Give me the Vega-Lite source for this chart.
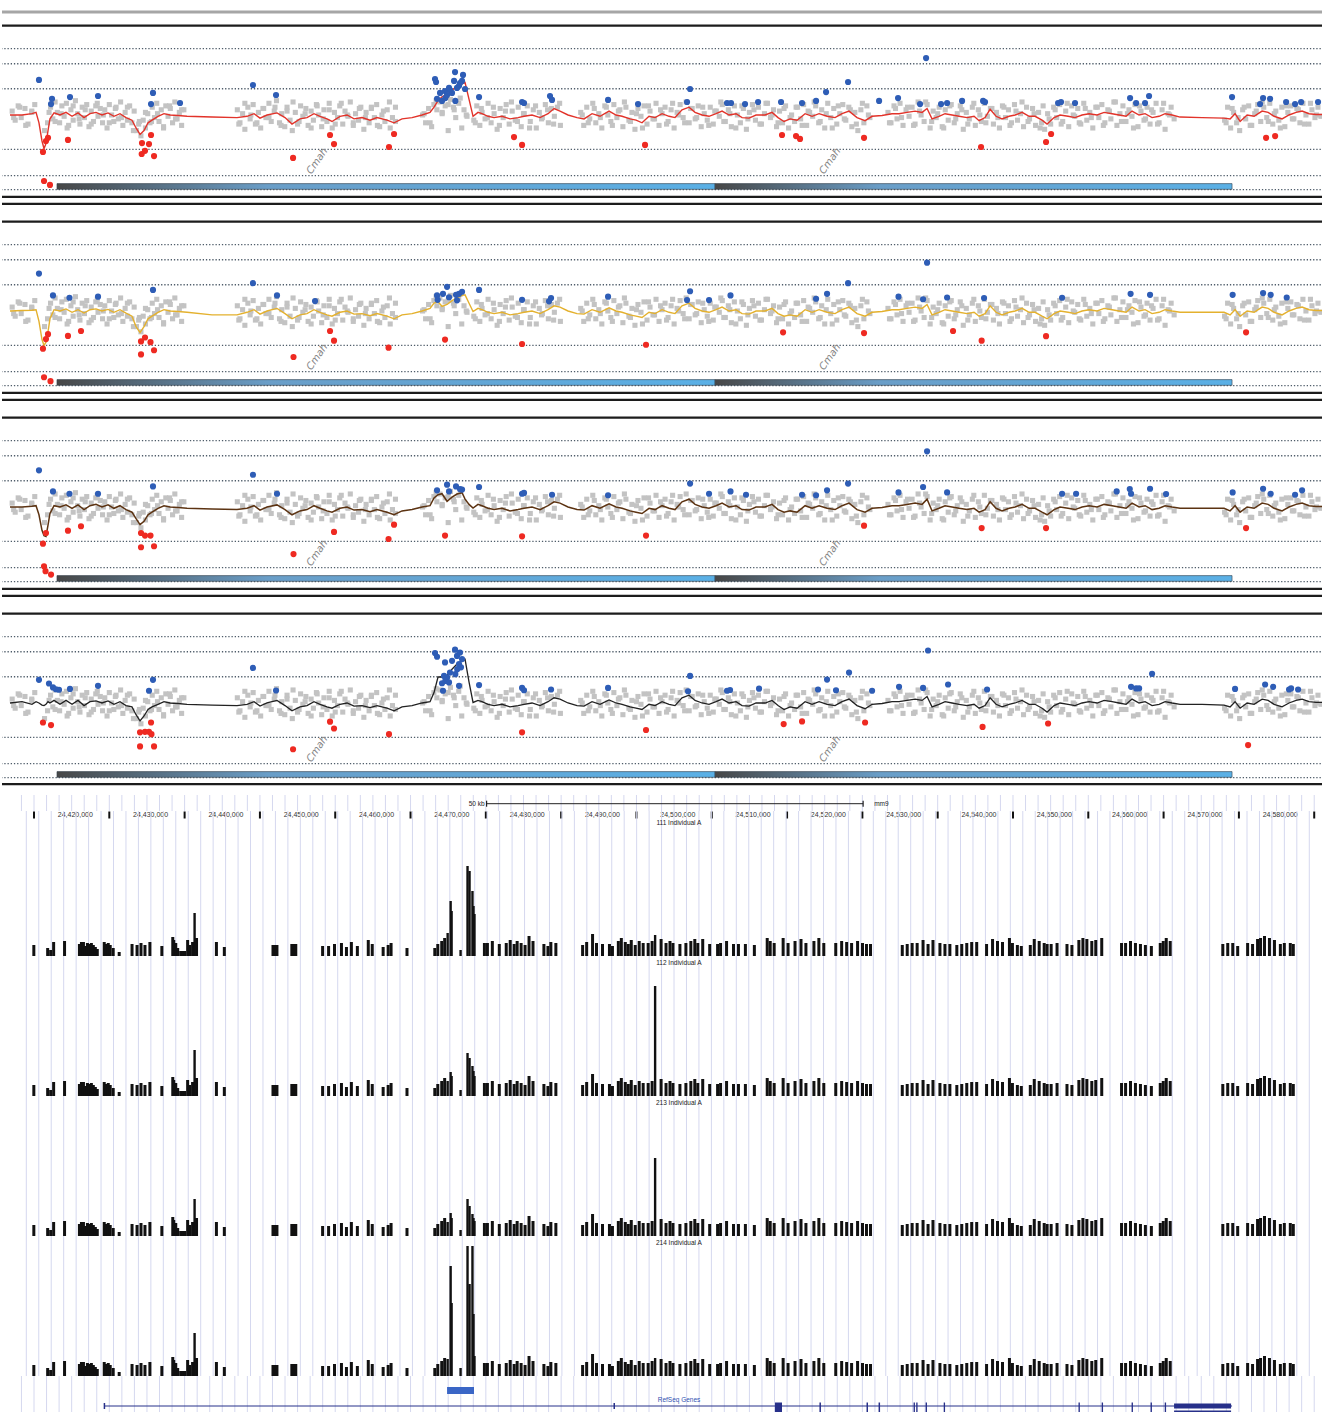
{
"$schema":"https://vega.github.io/schema/vega-lite/v6.json",
"padding":{"top":10,"left":0,"right":0,"bottom":0},
"background":"white",
"spacing":0,
"bounds":"flush",
"config":{"view":{"stroke":null},"concat":{"spacing":0}},
"datasets":{
"dots":[{"v":2.55},{"v":1.97},{"v":1.01},{"v":-1.32},{"v":-2.33},{"v":-2.87}],
"blk":[{"v":3.44},{"v":-3.15},{"v":-3.42}],
"blk4":[{"v":3.44},{"v":-3.12}],
"seg":[{"s":13.05,"e":100.44},{"s":100.44,"e":169.09}],
"cmah":[{"x":47.6,"t":"Cmah"},{"x":115.7,"t":"Cmah"}],
"grey":[
{"x":7.1,"v":0.15},{"x":7.5,"v":-0.2},{"x":7.9,"v":0.35},{"x":8.3,"v":-0.1},{"x":8.8,"v":0.25},{"x":9.2,"v":-0.35},{"x":9.7,"v":0.1},{"x":10.1,"v":0.4},
{"x":11.4,"v":-0.6},{"x":11.8,"v":-0.3},{"x":12.2,"v":0.3},{"x":12.5,"v":-0.15},{"x":12.8,"v":0.5},{"x":13.1,"v":0.1},{"x":13.4,"v":-0.3},{"x":13.7,"v":0.35},{"x":14.0,"v":-0.05},{"x":14.3,"v":0.45},{"x":14.6,"v":-0.4},{"x":14.9,"v":0.2},{"x":15.2,"v":-0.2},{"x":15.5,"v":0.55},{"x":15.8,"v":0.05},{"x":16.1,"v":-0.35},{"x":16.4,"v":0.3},{"x":16.7,"v":-0.1},{"x":17.0,"v":0.4},{"x":17.3,"v":-0.45},{"x":17.6,"v":0.15},{"x":17.9,"v":-0.25},{"x":18.2,"v":0.35},{"x":18.5,"v":-0.05},{"x":18.8,"v":0.25},
{"x":19.1,"v":-0.3},{"x":19.4,"v":0.2},{"x":19.7,"v":-0.5},{"x":20.0,"v":0.4},{"x":20.3,"v":0.0},{"x":20.6,"v":-0.25},{"x":20.9,"v":0.3},{"x":21.2,"v":-0.15},{"x":21.5,"v":0.5},{"x":21.8,"v":-0.4},{"x":22.1,"v":0.1},{"x":22.4,"v":-0.2},{"x":22.7,"v":0.35},{"x":23.0,"v":-0.3},{"x":23.3,"v":0.15},{"x":23.6,"v":-0.6},{"x":23.9,"v":-0.35},{"x":24.2,"v":-0.8},{"x":24.5,"v":-0.2},{"x":24.8,"v":-0.5},{"x":25.1,"v":0.05},{"x":25.4,"v":-0.3},{"x":25.7,"v":0.3},{"x":26.0,"v":-0.1},{"x":26.3,"v":0.45},{"x":26.6,"v":-0.25},{"x":26.9,"v":0.2},{"x":27.2,"v":-0.45},{"x":27.5,"v":0.35},{"x":27.8,"v":-0.05},{"x":28.1,"v":0.25},{"x":28.4,"v":-0.3},{"x":28.7,"v":0.5},{"x":29.0,"v":-0.15},{"x":29.3,"v":0.1},{"x":29.6,"v":-0.4},{"x":29.9,"v":0.2},
{"x":37.0,"v":0.2},{"x":37.35,"v":-0.3},{"x":37.7,"v":0.05},{"x":38.0,"v":-0.55},{"x":38.4,"v":0.3},{"x":38.7,"v":-0.15},{"x":39.1,"v":0.4},{"x":39.4,"v":-0.35},{"x":39.8,"v":0.1},{"x":40.1,"v":-0.5},{"x":40.5,"v":0.25},{"x":40.8,"v":-0.1},{"x":41.2,"v":0.45},{"x":41.5,"v":-0.25},{"x":41.9,"v":0.15},{"x":42.2,"v":0.55},{"x":42.6,"v":-0.3},{"x":42.9,"v":0.05},{"x":43.3,"v":-0.45},{"x":43.6,"v":0.3},{"x":44.0,"v":-0.2},{"x":44.3,"v":-0.6},{"x":44.7,"v":0.1},{"x":45.0,"v":-0.35},{"x":45.4,"v":0.35},{"x":45.7,"v":-0.05},{"x":46.1,"v":0.25},{"x":46.4,"v":-0.4},{"x":46.8,"v":0.15},
{"x":47.1,"v":-0.2},{"x":47.5,"v":0.4},{"x":47.8,"v":0.0},{"x":48.2,"v":-0.45},{"x":48.5,"v":0.2},{"x":48.9,"v":-0.25},{"x":49.2,"v":0.45},{"x":49.6,"v":-0.5},{"x":49.9,"v":0.1},{"x":50.3,"v":-0.1},{"x":50.6,"v":0.35},{"x":51.0,"v":-0.35},{"x":51.3,"v":0.15},{"x":51.7,"v":-0.05},{"x":52.0,"v":0.5},{"x":52.4,"v":-0.4},{"x":52.7,"v":0.05},{"x":53.1,"v":-0.2},{"x":53.4,"v":0.3},{"x":53.8,"v":-0.55},{"x":54.1,"v":0.1},{"x":54.5,"v":-0.3},{"x":54.8,"v":0.25},{"x":55.2,"v":-0.1},{"x":55.5,"v":0.4},{"x":55.9,"v":-0.45},{"x":56.2,"v":0.0},{"x":56.6,"v":-0.25},{"x":56.9,"v":0.2},{"x":57.3,"v":-0.5},{"x":57.6,"v":-0.1},{"x":58.0,"v":0.3},
{"x":61.6,"v":0.0},{"x":62.0,"v":-0.3},{"x":62.4,"v":0.25},{"x":62.8,"v":-0.45},{"x":63.1,"v":0.4},{"x":63.5,"v":0.2},{"x":63.9,"v":0.5},{"x":64.2,"v":0.1},{"x":64.6,"v":0.35},{"x":65.0,"v":-0.6},{"x":65.3,"v":0.6},{"x":65.7,"v":0.3},{"x":66.0,"v":-0.1},{"x":66.4,"v":0.45},{"x":66.8,"v":-0.5},{"x":67.1,"v":0.2},{"x":67.5,"v":-0.05},
{"x":68.4,"v":-0.2},{"x":68.8,"v":0.35},{"x":69.2,"v":-0.4},{"x":69.5,"v":0.1},{"x":69.9,"v":-0.15},{"x":70.3,"v":0.45},{"x":70.7,"v":-0.3},{"x":71.1,"v":0.05},{"x":71.5,"v":-0.55},{"x":71.9,"v":0.25},{"x":72.3,"v":-0.1},{"x":72.7,"v":0.4},{"x":73.1,"v":-0.35},{"x":73.5,"v":0.15},{"x":73.9,"v":-0.2},{"x":74.3,"v":0.3},{"x":74.7,"v":-0.45},{"x":75.1,"v":0.05},{"x":75.5,"v":0.35},{"x":75.9,"v":-0.25},{"x":76.3,"v":0.2},{"x":76.7,"v":-0.5},{"x":77.1,"v":0.1},{"x":77.5,"v":-0.1},{"x":77.9,"v":0.4},{"x":78.3,"v":-0.3},{"x":78.7,"v":0.25},{"x":79.1,"v":-0.05},{"x":79.5,"v":0.3},{"x":79.9,"v":-0.4},
{"x":82.6,"v":0.1},{"x":83.0,"v":-0.4},{"x":83.4,"v":0.3},{"x":83.8,"v":-0.15},{"x":84.2,"v":0.45},{"x":84.6,"v":-0.3},{"x":85.0,"v":0.05},{"x":85.4,"v":-0.5},{"x":85.8,"v":0.35},{"x":86.2,"v":0.0},{"x":86.6,"v":-0.25},{"x":87.0,"v":0.4},{"x":87.4,"v":-0.1},{"x":87.8,"v":0.2},{"x":88.2,"v":-0.45},{"x":88.6,"v":0.3},{"x":89.0,"v":-0.2},{"x":89.4,"v":0.1},{"x":89.8,"v":-0.55},{"x":90.2,"v":0.25},{"x":90.6,"v":-0.05},{"x":91.0,"v":0.35},{"x":91.4,"v":-0.35},{"x":91.8,"v":0.15},{"x":92.2,"v":-0.15},{"x":92.6,"v":0.45},{"x":93.0,"v":-0.4},{"x":93.4,"v":0.05},{"x":93.8,"v":0.3},{"x":94.2,"v":-0.25},{"x":94.6,"v":0.2},{"x":95.0,"v":-0.5},{"x":95.4,"v":0.1},{"x":95.8,"v":0.4},{"x":96.2,"v":-0.1},{"x":96.6,"v":0.5},{"x":97.0,"v":-0.3},{"x":97.4,"v":0.25},{"x":97.8,"v":-0.15},{"x":98.2,"v":0.35},{"x":98.6,"v":-0.45},{"x":99.0,"v":0.05},{"x":99.4,"v":-0.2},{"x":99.8,"v":0.3},{"x":100.2,"v":-0.35},{"x":100.6,"v":0.15},{"x":101.0,"v":-0.05},{"x":101.4,"v":0.4},
{"x":101.8,"v":-0.25},{"x":102.2,"v":0.2},{"x":102.6,"v":-0.45},{"x":103.0,"v":0.35},{"x":103.4,"v":0.0},{"x":103.8,"v":-0.3},{"x":104.2,"v":0.25},{"x":104.6,"v":-0.55},{"x":105.0,"v":0.1},{"x":105.4,"v":0.4},{"x":105.8,"v":-0.2},{"x":106.2,"v":0.3},{"x":106.6,"v":-0.35},{"x":107.0,"v":0.05},{"x":107.4,"v":0.45},{"x":107.8,"v":-0.1},{"x":108.2,"v":0.2},{"x":108.6,"v":-0.45},{"x":109.0,"v":0.15},{"x":109.4,"v":-0.3},{"x":109.8,"v":0.35},{"x":110.2,"v":-0.5},{"x":110.6,"v":0.0},{"x":111.0,"v":-0.25},{"x":111.4,"v":0.3},{"x":111.8,"v":-0.15},{"x":112.2,"v":0.4},{"x":112.6,"v":-0.4},{"x":113.0,"v":0.1},{"x":113.4,"v":-0.05},{"x":113.8,"v":0.35},{"x":114.2,"v":-0.3},{"x":114.6,"v":0.2},{"x":115.0,"v":-0.5},{"x":115.4,"v":0.45},{"x":115.8,"v":-0.1},{"x":116.2,"v":0.25},{"x":116.6,"v":-0.35},{"x":117.0,"v":0.05},{"x":117.4,"v":0.4},{"x":117.8,"v":-0.2},{"x":118.2,"v":0.3},{"x":118.6,"v":-0.45},{"x":119.0,"v":0.1},{"x":119.4,"v":-0.6},{"x":119.8,"v":0.2},{"x":120.2,"v":-0.3},{"x":120.6,"v":0.35},{"x":121.0,"v":-0.1},
{"x":123.4,"v":0.1},{"x":123.8,"v":-0.3},{"x":124.2,"v":0.35},{"x":124.6,"v":-0.15},{"x":125.0,"v":0.45},{"x":125.4,"v":-0.4},{"x":125.8,"v":0.2},{"x":126.2,"v":-0.05},{"x":126.6,"v":0.3},{"x":127.0,"v":-0.35},{"x":127.4,"v":0.5},{"x":127.8,"v":0.0},{"x":128.2,"v":-0.25},{"x":128.6,"v":0.4},{"x":129.0,"v":-0.5},{"x":129.4,"v":0.15},{"x":129.8,"v":-0.1},{"x":130.2,"v":0.3},{"x":130.6,"v":-0.45},{"x":131.0,"v":0.2},{"x":131.4,"v":-0.2},{"x":131.8,"v":0.4},{"x":132.2,"v":-0.3},{"x":132.6,"v":0.05},{"x":133.0,"v":0.35},{"x":133.4,"v":-0.55},{"x":133.8,"v":0.1},{"x":134.2,"v":-0.15},{"x":134.6,"v":0.3},{"x":135.0,"v":-0.4},{"x":135.4,"v":0.2},{"x":135.8,"v":-0.25},{"x":136.2,"v":0.45},{"x":136.6,"v":-0.05},{"x":137.0,"v":0.25},{"x":137.4,"v":-0.35},{"x":137.8,"v":0.1},{"x":138.2,"v":-0.5},{"x":138.6,"v":0.35},{"x":139.0,"v":-0.1},{"x":139.4,"v":0.2},{"x":139.8,"v":-0.3},{"x":140.2,"v":0.4},{"x":140.6,"v":-0.2},{"x":141.0,"v":0.05},{"x":141.4,"v":-0.45},{"x":141.8,"v":0.3},{"x":142.2,"v":-0.15},{"x":142.6,"v":0.25},{"x":143.0,"v":-0.4},{"x":143.4,"v":0.1},
{"x":143.8,"v":-0.3},{"x":144.2,"v":-0.55},{"x":144.6,"v":0.05},{"x":145.0,"v":-0.35},{"x":145.4,"v":0.3},{"x":145.8,"v":-0.1},{"x":146.2,"v":0.4},{"x":146.6,"v":-0.25},{"x":147.0,"v":0.15},{"x":147.4,"v":-0.45},{"x":147.8,"v":0.35},{"x":148.2,"v":-0.05},{"x":148.6,"v":0.25},{"x":149.0,"v":-0.35},{"x":149.4,"v":0.45},{"x":149.8,"v":-0.2},{"x":150.2,"v":0.1},{"x":150.6,"v":-0.5},{"x":151.0,"v":0.3},{"x":151.4,"v":-0.1},{"x":151.8,"v":0.4},{"x":152.2,"v":-0.3},{"x":152.6,"v":0.2},{"x":153.0,"v":-0.15},{"x":153.4,"v":0.5},{"x":153.8,"v":-0.4},{"x":154.2,"v":0.05},{"x":154.6,"v":0.35},{"x":155.0,"v":-0.25},{"x":155.4,"v":0.2},{"x":155.8,"v":-0.05},{"x":156.2,"v":0.4},{"x":156.6,"v":-0.45},{"x":157.0,"v":0.15},{"x":157.4,"v":-0.2},{"x":157.8,"v":0.3},{"x":158.2,"v":-0.35},{"x":158.6,"v":0.1},{"x":159.0,"v":0.45},{"x":159.4,"v":-0.3},{"x":159.8,"v":0.2},{"x":160.2,"v":-0.55},{"x":160.6,"v":0.05},{"x":161.0,"v":0.3},{"x":161.4,"v":-0.15},
{"x":168.1,"v":-0.2},{"x":168.5,"v":0.3},{"x":168.9,"v":-0.5},{"x":169.3,"v":0.1},{"x":169.7,"v":-0.3},{"x":170.1,"v":-0.6},{"x":170.5,"v":0.2},{"x":170.9,"v":-0.15},{"x":171.3,"v":0.35},{"x":171.7,"v":-0.4},{"x":172.1,"v":0.05},{"x":172.5,"v":0.4},{"x":172.9,"v":-0.25},{"x":173.3,"v":0.3},{"x":173.7,"v":-0.1},{"x":174.1,"v":0.45},{"x":174.5,"v":-0.35},{"x":174.9,"v":0.15},{"x":175.3,"v":-0.2},{"x":175.7,"v":0.3},{"x":176.1,"v":-0.45},{"x":176.5,"v":0.1},{"x":176.9,"v":0.35},{"x":177.3,"v":-0.15},{"x":177.7,"v":0.25},{"x":178.1,"v":-0.3},{"x":178.5,"v":0.45},{"x":178.9,"v":0.0},{"x":179.3,"v":-0.35},{"x":179.7,"v":0.2},{"x":180.1,"v":-0.1},{"x":180.5,"v":0.3},{"x":180.9,"v":-0.05},
{"x":7.3,"v":-0.1},{"x":8.1,"v":0.3},{"x":8.9,"v":-0.4},{"x":9.7,"v":0.15},
{"x":12.0,"v":0.1},{"x":12.8,"v":-0.25},{"x":13.6,"v":0.05},{"x":14.4,"v":-0.5},{"x":15.2,"v":0.35},{"x":16.0,"v":-0.15},{"x":16.8,"v":0.2},{"x":17.6,"v":-0.35},{"x":18.4,"v":0.45},
{"x":19.2,"v":0.0},{"x":20.0,"v":-0.3},{"x":20.8,"v":0.25},{"x":21.6,"v":-0.1},{"x":22.4,"v":0.3},{"x":23.2,"v":-0.6},{"x":24.0,"v":-0.25},{"x":24.8,"v":0.1},{"x":25.6,"v":-0.25},{"x":26.4,"v":0.05},{"x":27.2,"v":-0.5},{"x":28.0,"v":0.35},{"x":28.8,"v":-0.15},{"x":29.6,"v":0.2},
{"x":37.2,"v":-0.35},{"x":38.0,"v":0.45},{"x":38.8,"v":0.0},{"x":39.6,"v":-0.3},{"x":40.4,"v":0.25},{"x":41.2,"v":-0.1},{"x":42.0,"v":0.3},{"x":42.8,"v":-0.4},{"x":43.6,"v":0.15},{"x":44.4,"v":0.5},{"x":45.2,"v":-0.25},{"x":46.0,"v":0.05},{"x":46.8,"v":-0.5},
{"x":47.6,"v":0.35},{"x":48.4,"v":-0.15},{"x":49.2,"v":0.2},{"x":50.0,"v":-0.35},{"x":50.8,"v":0.45},{"x":51.6,"v":0.0},{"x":52.4,"v":-0.3},{"x":53.2,"v":0.25},{"x":54.0,"v":-0.1},{"x":54.8,"v":0.3},{"x":55.6,"v":-0.4},{"x":56.4,"v":0.15},{"x":57.2,"v":0.5},{"x":58.0,"v":-0.25},
{"x":61.8,"v":0.05},{"x":62.6,"v":-0.3},{"x":63.4,"v":0.55},{"x":64.2,"v":0.05},{"x":65.0,"v":0.4},{"x":65.8,"v":0.2},{"x":66.6,"v":0.65},{"x":67.4,"v":0.0},
{"x":68.6,"v":-0.3},{"x":69.4,"v":0.25},{"x":70.2,"v":-0.1},{"x":71.0,"v":0.3},{"x":71.8,"v":-0.4},{"x":72.6,"v":0.15},{"x":73.4,"v":0.5},{"x":74.2,"v":-0.25},{"x":75.0,"v":0.05},{"x":75.8,"v":-0.5},{"x":76.6,"v":0.35},{"x":77.4,"v":-0.15},{"x":78.2,"v":0.2},{"x":79.0,"v":-0.35},{"x":79.8,"v":0.45},
{"x":82.8,"v":0.0},{"x":83.6,"v":-0.3},{"x":84.4,"v":0.25},{"x":85.2,"v":-0.1},{"x":86.0,"v":0.3},{"x":86.8,"v":-0.4},{"x":87.6,"v":0.15},{"x":88.4,"v":0.5},{"x":89.2,"v":-0.25},{"x":90.0,"v":0.05},{"x":90.8,"v":-0.5},{"x":91.6,"v":0.35},{"x":92.4,"v":-0.15},{"x":93.2,"v":0.2},{"x":94.0,"v":-0.35},{"x":94.8,"v":0.45},{"x":95.6,"v":0.0},{"x":96.4,"v":-0.3},{"x":97.2,"v":0.25},{"x":98.0,"v":-0.1},{"x":98.8,"v":0.3},{"x":99.6,"v":-0.4},{"x":100.4,"v":0.15},{"x":101.2,"v":0.5},
{"x":101.6,"v":-0.25},{"x":102.4,"v":0.05},{"x":103.2,"v":-0.5},{"x":104.0,"v":0.35},{"x":104.8,"v":-0.15},{"x":105.6,"v":0.2},{"x":106.4,"v":-0.35},{"x":107.2,"v":0.45},{"x":108.0,"v":0.0},{"x":108.8,"v":-0.3},{"x":109.6,"v":0.25},{"x":110.4,"v":-0.1},{"x":111.2,"v":0.3},{"x":112.0,"v":-0.4},{"x":112.8,"v":0.15},{"x":113.6,"v":0.5},{"x":114.4,"v":-0.25},{"x":115.2,"v":0.05},{"x":116.0,"v":-0.5},{"x":116.8,"v":0.35},{"x":117.6,"v":-0.15},{"x":118.4,"v":0.2},{"x":119.2,"v":-0.35},{"x":120.0,"v":0.45},{"x":120.8,"v":0.0},
{"x":123.6,"v":-0.3},{"x":124.4,"v":0.25},{"x":125.2,"v":-0.1},{"x":126.0,"v":0.3},{"x":126.8,"v":-0.4},{"x":127.6,"v":0.15},{"x":128.4,"v":0.5},{"x":129.2,"v":-0.25},{"x":130.0,"v":0.05},{"x":130.8,"v":-0.5},{"x":131.6,"v":0.35},{"x":132.4,"v":-0.15},{"x":133.2,"v":0.2},{"x":134.0,"v":-0.35},{"x":134.8,"v":0.45},{"x":135.6,"v":0.0},{"x":136.4,"v":-0.3},{"x":137.2,"v":0.25},{"x":138.0,"v":-0.1},{"x":138.8,"v":0.3},{"x":139.6,"v":-0.4},{"x":140.4,"v":0.15},{"x":141.2,"v":0.5},{"x":142.0,"v":-0.25},{"x":142.8,"v":0.05},{"x":143.6,"v":-0.5},
{"x":144.0,"v":0.35},{"x":144.8,"v":-0.15},{"x":145.6,"v":0.2},{"x":146.4,"v":-0.35},{"x":147.2,"v":0.45},{"x":148.0,"v":0.0},{"x":148.8,"v":-0.3},{"x":149.6,"v":0.25},{"x":150.4,"v":-0.1},{"x":151.2,"v":0.3},{"x":152.0,"v":-0.4},{"x":152.8,"v":0.15},{"x":153.6,"v":0.5},{"x":154.4,"v":-0.25},{"x":155.2,"v":0.05},{"x":156.0,"v":-0.5},{"x":156.8,"v":0.35},{"x":157.6,"v":-0.15},{"x":158.4,"v":0.2},{"x":159.2,"v":-0.35},{"x":160.0,"v":0.45},{"x":160.8,"v":0.0},
{"x":168.3,"v":-0.3},{"x":169.1,"v":0.25},{"x":169.9,"v":-0.1},{"x":170.7,"v":0.3},{"x":171.5,"v":-0.4},{"x":172.3,"v":0.15},{"x":173.1,"v":0.5},{"x":173.9,"v":-0.25},{"x":174.7,"v":0.05},{"x":175.5,"v":-0.5},{"x":176.3,"v":0.35},{"x":177.1,"v":-0.15},{"x":177.9,"v":0.2},{"x":178.7,"v":-0.35},{"x":179.5,"v":0.45},{"x":180.3,"v":0.0}
],
"smooth":[
{"x":6.81,"a":0,"b":0,"c":0,"d":0},{"x":8.41,"a":0,"b":0.02,"c":0,"d":0.05},{"x":9.73,"a":0.05,"b":0.03,"c":0.03,"d":-0.05},{"x":10.27,"a":0.1,"b":0.05,"c":0.05,"d":0.05},{"x":10.66,"a":-0.3,"b":-0.4,"c":-0.3,"d":0},{"x":11.06,"a":-1.0,"b":-1.1,"c":-0.9,"d":-0.08},{"x":11.33,"a":-1.3,"b":-1.33,"c":-1.1,"d":-0.1},{"x":11.59,"a":-1.1,"b":-1.2,"c":-1.13,"d":-0.05},{"x":11.86,"a":-0.6,"b":-0.8,"c":-0.7,"d":0.05},{"x":12.12,"a":-0.15,"b":-0.3,"c":-0.25,"d":0},
{"x":12.66,"a":0.08,"b":0.05,"c":0.05,"d":0.1},{"x":13.45,"a":0,"b":0,"c":0,"d":-0.05},{"x":14.25,"a":0.1,"b":0.08,"c":0.08,"d":0.1},{"x":15.05,"a":-0.05,"b":-0.05,"c":-0.05,"d":-0.05},{"x":15.84,"a":0.08,"b":0.05,"c":0.08,"d":0.1},{"x":16.64,"a":-0.1,"b":-0.08,"c":-0.1,"d":-0.1},{"x":17.44,"a":0.05,"b":0.05,"c":0.05,"d":0.05},{"x":18.23,"a":0.1,"b":0.08,"c":0.1,"d":0.08},{"x":19.03,"a":0,"b":0,"c":0,"d":0},{"x":19.83,"a":0.08,"b":0.06,"c":0.08,"d":0.08},{"x":20.62,"a":-0.05,"b":-0.05,"c":-0.05,"d":-0.05},{"x":21.42,"a":0.05,"b":0.05,"c":0.05,"d":0.05},{"x":22.22,"a":-0.1,"b":-0.08,"c":-0.1,"d":-0.1},
{"x":23.01,"a":-0.2,"b":-0.2,"c":-0.2,"d":-0.15},{"x":23.55,"a":-0.5,"b":-0.6,"c":-0.45,"d":-0.45},{"x":24.08,"a":-0.75,"b":-0.83,"c":-0.68,"d":-0.69},{"x":24.61,"a":-0.6,"b":-0.6,"c":-0.55,"d":-0.5},{"x":25.14,"a":-0.3,"b":-0.3,"c":-0.3,"d":-0.25},{"x":25.67,"a":-0.2,"b":-0.2,"c":-0.2,"d":-0.15},{"x":26.47,"a":-0.05,"b":-0.05,"c":-0.05,"d":-0.05},{"x":27.26,"a":0.05,"b":0.05,"c":0.05,"d":0.05},{"x":28.06,"a":0,"b":0,"c":0,"d":0},{"x":29.12,"a":-0.02,"b":-0.02,"c":-0.02,"d":-0.02},{"x":30.32,"a":-0.05,"b":-0.05,"c":-0.05,"d":-0.05},{"x":33.64,"a":-0.08,"b":-0.15,"c":-0.08,"d":-0.08},{"x":36.96,"a":-0.1,"b":-0.15,"c":-0.1,"d":-0.1},
{"x":38.29,"a":-0.05,"b":-0.05,"c":-0.05,"d":-0.05},{"x":39.22,"a":0.05,"b":0.05,"c":0.05,"d":0.05},{"x":40.01,"a":-0.12,"b":-0.12,"c":-0.12,"d":-0.12},{"x":40.94,"a":0,"b":0,"c":0,"d":0},{"x":42.27,"a":0.08,"b":0.1,"c":0.08,"d":0.1},{"x":43.33,"a":-0.1,"b":-0.1,"c":-0.1,"d":-0.1},{"x":44.26,"a":-0.35,"b":-0.3,"c":-0.3,"d":-0.3},{"x":45.32,"a":-0.15,"b":-0.15,"c":-0.15,"d":-0.15},{"x":46.25,"a":-0.1,"b":-0.1,"c":-0.1,"d":-0.1},{"x":47.18,"a":0.05,"b":0.05,"c":0.05,"d":0.05},{"x":47.98,"a":-0.05,"b":-0.05,"c":-0.05,"d":-0.05},{"x":48.91,"a":-0.15,"b":-0.15,"c":-0.15,"d":-0.15},{"x":49.57,"a":-0.25,"b":-0.2,"c":-0.2,"d":-0.2},{"x":50.64,"a":-0.05,"b":-0.05,"c":-0.05,"d":-0.05},{"x":51.57,"a":0,"b":0,"c":0,"d":0},{"x":52.5,"a":-0.15,"b":-0.12,"c":-0.12,"d":-0.12},{"x":53.56,"a":-0.1,"b":-0.1,"c":-0.1,"d":-0.1},{"x":54.62,"a":-0.2,"b":-0.18,"c":-0.18,"d":-0.18},{"x":55.55,"a":-0.1,"b":-0.1,"c":-0.1,"d":-0.1},{"x":56.88,"a":-0.2,"b":-0.2,"c":-0.2,"d":-0.2},{"x":57.81,"a":-0.3,"b":-0.3,"c":-0.3,"d":-0.3},{"x":58.87,"a":-0.15,"b":-0.15,"c":-0.15,"d":-0.15},{"x":60.2,"a":-0.1,"b":-0.1,"c":-0.1,"d":-0.1},{"x":61.53,"a":0,"b":0,"c":0,"d":0},
{"x":62.59,"a":0.1,"b":0.1,"c":0.05,"d":0.05},{"x":63.12,"a":0.3,"b":0.3,"c":0.35,"d":0.4},{"x":63.65,"a":0.55,"b":0.35,"c":0.47,"d":1.0},{"x":64.18,"a":0.7,"b":0.18,"c":0.51,"d":1.0},{"x":64.85,"a":0.8,"b":0.25,"c":0.22,"d":1.05},{"x":65.51,"a":0.95,"b":0.4,"c":0.38,"d":1.3},{"x":66.17,"a":1.1,"b":0.5,"c":0.5,"d":1.5},{"x":66.84,"a":1.2,"b":0.6,"c":0.55,"d":1.62},{"x":67.24,"a":1.25,"b":0.62,"c":0.3,"d":1.68},{"x":67.77,"a":0.6,"b":0.3,"c":0.1,"d":0.8},{"x":68.3,"a":-0.05,"b":-0.02,"c":-0.04,"d":0.02},
{"x":68.96,"a":0.1,"b":0.1,"c":0.1,"d":0.1},{"x":69.49,"a":0.05,"b":0.05,"c":0.05,"d":0.05},{"x":70.29,"a":-0.05,"b":-0.05,"c":-0.05,"d":-0.05},{"x":71.09,"a":-0.1,"b":-0.1,"c":-0.1,"d":-0.1},{"x":72.15,"a":-0.05,"b":-0.05,"c":-0.05,"d":-0.05},{"x":73.21,"a":-0.15,"b":-0.15,"c":-0.15,"d":-0.15},{"x":74.28,"a":-0.1,"b":-0.1,"c":-0.1,"d":-0.1},{"x":75.07,"a":-0.05,"b":-0.05,"c":-0.05,"d":-0.05},{"x":76.13,"a":0,"b":0,"c":0,"d":0},{"x":77.2,"a":-0.1,"b":-0.1,"c":-0.1,"d":-0.1},{"x":78.26,"a":0.05,"b":0.05,"c":0.05,"d":0.05},{"x":79.06,"a":0.25,"b":0.2,"c":0.2,"d":0.2},{"x":79.85,"a":0.15,"b":0.15,"c":0.15,"d":0.15},{"x":80.91,"a":0,"b":0,"c":0,"d":0},{"x":82.11,"a":-0.1,"b":-0.1,"c":-0.1,"d":-0.1},{"x":83.04,"a":-0.15,"b":-0.12,"c":-0.12,"d":-0.12},{"x":84.1,"a":0.05,"b":0.05,"c":0.05,"d":0.05},{"x":85.16,"a":-0.05,"b":-0.05,"c":-0.05,"d":-0.05},{"x":86.36,"a":0.15,"b":0.12,"c":0.12,"d":0.12},{"x":87.29,"a":0,"b":0,"c":0,"d":0},{"x":88.09,"a":-0.05,"b":-0.05,"c":-0.05,"d":-0.05},{"x":89.15,"a":-0.15,"b":-0.15,"c":-0.15,"d":-0.15},{"x":89.95,"a":-0.2,"b":-0.2,"c":-0.2,"d":-0.2},{"x":90.74,"a":-0.3,"b":-0.25,"c":-0.25,"d":-0.25},{"x":91.67,"a":-0.05,"b":-0.05,"c":-0.05,"d":-0.05},{"x":92.47,"a":-0.1,"b":-0.1,"c":-0.1,"d":-0.1},{"x":93.4,"a":0.05,"b":0.05,"c":0.05,"d":0.05},{"x":94.33,"a":-0.05,"b":-0.05,"c":-0.05,"d":-0.05},{"x":95.12,"a":-0.1,"b":-0.1,"c":-0.1,"d":-0.1},{"x":96.05,"a":0.2,"b":0.2,"c":0.2,"d":0.2},{"x":96.98,"a":0.3,"b":0.3,"c":0.3,"d":0.3},{"x":97.78,"a":0.1,"b":0.1,"c":0.1,"d":0.1},{"x":98.71,"a":0,"b":0,"c":0,"d":0},{"x":99.64,"a":-0.05,"b":-0.05,"c":-0.05,"d":-0.05},{"x":100.57,"a":0.05,"b":0.05,"c":0.05,"d":0.05},{"x":101.37,"a":0.15,"b":0.15,"c":0.15,"d":0.15},{"x":102.3,"a":0,"b":0,"c":0,"d":0},{"x":103.23,"a":0.05,"b":0.05,"c":0.05,"d":0.05},{"x":104.02,"a":-0.1,"b":-0.1,"c":-0.1,"d":-0.1},{"x":104.95,"a":-0.12,"b":-0.12,"c":-0.12,"d":-0.12},{"x":105.88,"a":0,"b":0,"c":0,"d":0},{"x":107.08,"a":0,"b":0,"c":0,"d":0},{"x":108.01,"a":0.1,"b":0.1,"c":0.1,"d":0.1},{"x":108.8,"a":-0.1,"b":-0.1,"c":-0.1,"d":-0.1},{"x":109.6,"a":-0.25,"b":-0.2,"c":-0.2,"d":-0.25},{"x":110.4,"a":-0.15,"b":-0.15,"c":-0.15,"d":-0.15},{"x":111.33,"a":-0.2,"b":-0.2,"c":-0.2,"d":-0.2},{"x":112.39,"a":0.05,"b":0.05,"c":0.05,"d":0.05},{"x":113.32,"a":-0.05,"b":-0.05,"c":-0.05,"d":-0.05},{"x":114.25,"a":0.05,"b":0.05,"c":0.05,"d":0.05},{"x":115.31,"a":-0.05,"b":-0.05,"c":-0.05,"d":-0.05},{"x":116.37,"a":-0.1,"b":-0.1,"c":-0.1,"d":-0.1},{"x":117.3,"a":0.05,"b":0.05,"c":0.05,"d":0.05},{"x":118.23,"a":0.15,"b":0.15,"c":0.15,"d":0.15},{"x":119.29,"a":-0.1,"b":-0.1,"c":-0.1,"d":-0.1},{"x":120.36,"a":-0.22,"b":-0.2,"c":-0.2,"d":-0.22},{"x":121.29,"a":-0.05,"b":-0.05,"c":-0.05,"d":-0.05},{"x":122.61,"a":-0.02,"b":-0.02,"c":-0.02,"d":-0.02},{"x":123.94,"a":0.05,"b":0.05,"c":0.05,"d":0.05},{"x":124.87,"a":0.05,"b":0.05,"c":0.05,"d":0.05},{"x":125.93,"a":0.1,"b":0.1,"c":0.1,"d":0.1},{"x":127.0,"a":0.15,"b":0.15,"c":0.15,"d":0.15},{"x":127.93,"a":0.1,"b":0.1,"c":0.1,"d":0.1},{"x":128.59,"a":0.25,"b":0.25,"c":0.3,"d":0.25},{"x":129.25,"a":-0.15,"b":-0.15,"c":-0.15,"d":-0.15},{"x":130.18,"a":-0.05,"b":-0.05,"c":-0.05,"d":-0.05},{"x":130.98,"a":0.05,"b":0.05,"c":0.05,"d":0.05},{"x":131.91,"a":0,"b":0,"c":0,"d":0},{"x":132.84,"a":-0.05,"b":-0.05,"c":-0.05,"d":-0.05},{"x":133.9,"a":-0.1,"b":-0.1,"c":-0.1,"d":-0.1},{"x":134.83,"a":-0.05,"b":-0.05,"c":-0.05,"d":-0.05},{"x":135.5,"a":-0.22,"b":-0.2,"c":-0.2,"d":-0.2},{"x":136.29,"a":-0.1,"b":-0.1,"c":-0.1,"d":-0.1},{"x":136.96,"a":0.22,"b":0.2,"c":0.2,"d":0.2},{"x":137.75,"a":-0.05,"b":-0.05,"c":-0.05,"d":-0.05},{"x":138.55,"a":-0.15,"b":-0.15,"c":-0.15,"d":-0.15},{"x":139.48,"a":-0.05,"b":-0.05,"c":-0.05,"d":-0.05},{"x":140.28,"a":0,"b":0,"c":0,"d":0},{"x":141.21,"a":0.1,"b":0.1,"c":0.1,"d":0.1},{"x":142.14,"a":-0.05,"b":-0.05,"c":-0.05,"d":-0.05},{"x":142.93,"a":-0.05,"b":-0.05,"c":-0.05,"d":-0.05},{"x":143.86,"a":-0.2,"b":-0.2,"c":-0.2,"d":-0.2},{"x":144.53,"a":-0.35,"b":-0.3,"c":-0.3,"d":-0.35},{"x":145.46,"a":-0.1,"b":-0.1,"c":-0.1,"d":-0.1},{"x":146.25,"a":0,"b":0,"c":0,"d":0},{"x":147.32,"a":-0.05,"b":-0.05,"c":-0.05,"d":-0.05},{"x":148.24,"a":-0.1,"b":-0.1,"c":-0.1,"d":-0.1},{"x":149.17,"a":0,"b":0,"c":0,"d":0},{"x":150.1,"a":0.05,"b":0.05,"c":0.05,"d":0.05},{"x":151.17,"a":0,"b":0,"c":0,"d":0},{"x":152.1,"a":0.1,"b":0.1,"c":0.1,"d":0.1},{"x":153.16,"a":0.05,"b":0.05,"c":0.05,"d":0.05},{"x":154.09,"a":0,"b":0,"c":0,"d":0},{"x":155.02,"a":-0.05,"b":-0.05,"c":-0.05,"d":-0.05},{"x":155.81,"a":0.15,"b":0.15,"c":0.15,"d":0.15},{"x":156.74,"a":0,"b":0,"c":0,"d":0},{"x":157.54,"a":0.05,"b":0.05,"c":0.05,"d":0.05},{"x":158.47,"a":-0.1,"b":-0.1,"c":-0.1,"d":-0.1},{"x":159.4,"a":-0.05,"b":-0.05,"c":-0.05,"d":-0.05},{"x":160.2,"a":0.05,"b":0.05,"c":0.05,"d":0.05},{"x":161.13,"a":0,"b":0,"c":0,"d":0},{"x":162.19,"a":-0.08,"b":-0.05,"c":-0.05,"d":-0.05},{"x":165.11,"a":-0.1,"b":-0.05,"c":-0.05,"d":-0.05},{"x":168.03,"a":-0.12,"b":-0.05,"c":-0.05,"d":-0.08},{"x":168.83,"a":-0.15,"b":-0.15,"c":-0.15,"d":-0.15},{"x":169.49,"a":0.05,"b":0.05,"c":0.05,"d":0.05},{"x":170.16,"a":-0.25,"b":-0.2,"c":-0.2,"d":-0.2},{"x":171.09,"a":0,"b":0,"c":0,"d":0},{"x":172.02,"a":-0.05,"b":-0.05,"c":-0.05,"d":-0.05},{"x":173.08,"a":0.15,"b":0.15,"c":0.15,"d":0.15},{"x":173.88,"a":0.1,"b":0.1,"c":0.1,"d":0.1},{"x":174.67,"a":-0.05,"b":-0.05,"c":-0.05,"d":-0.05},{"x":175.73,"a":-0.15,"b":-0.15,"c":-0.15,"d":-0.15},{"x":176.66,"a":0,"b":0,"c":0,"d":0},{"x":177.59,"a":0.1,"b":0.1,"c":0.1,"d":0.1},{"x":178.39,"a":0.15,"b":0.15,"c":0.15,"d":0.15},{"x":179.32,"a":0.05,"b":0.05,"c":0.05,"d":0.05},{"x":180.25,"a":0.02,"b":0.02,"c":0.02,"d":0.02},{"x":181.2,"a":0.02,"b":0.02,"c":0.02,"d":0.02}
],
"out":[
{"p":1,"x":10.66,"v":1.35,"c":"b"},{"p":1,"x":12.39,"v":0.62,"c":"b"},{"p":1,"x":12.26,"v":0.42,"c":"b"},{"p":1,"x":14.78,"v":0.69,"c":"b"},{"p":1,"x":18.5,"v":0.73,"c":"b"},{"p":1,"x":25.8,"v":0.85,"c":"b"},{"p":1,"x":25.54,"v":0.42,"c":"b"},{"p":1,"x":29.39,"v":0.46,"c":"b"},{"p":1,"x":39.08,"v":1.15,"c":"b"},{"p":1,"x":42.14,"v":0.77,"c":"b"},
{"p":1,"x":63.25,"v":1.38,"c":"b"},{"p":1,"x":63.39,"v":1.27,"c":"b"},{"p":1,"x":64.58,"v":0.92,"c":"b"},{"p":1,"x":65.11,"v":1.04,"c":"b"},{"p":1,"x":65.91,"v":1.65,"c":"b"},{"p":1,"x":66.97,"v":1.54,"c":"b"},{"p":1,"x":66.84,"v":1.31,"c":"b"},{"p":1,"x":66.44,"v":1.12,"c":"b"},{"p":1,"x":65.51,"v":0.85,"c":"b"},{"p":1,"x":64.18,"v":0.54,"c":"b"},{"p":1,"x":63.52,"v":0.62,"c":"b"},{"p":1,"x":65.95,"v":0.54,"c":"b"},{"p":1,"x":64.62,"v":0.65,"c":"b"},{"p":1,"x":65.24,"v":0.96,"c":"b"},{"p":1,"x":66.17,"v":1.04,"c":"b"},{"p":1,"x":66.57,"v":1.23,"c":"b"},{"p":1,"x":64.85,"v":0.77,"c":"b"},{"p":1,"x":63.92,"v":0.85,"c":"b"},{"p":1,"x":65.78,"v":1.31,"c":"b"},{"p":1,"x":67.24,"v":1.0,"c":"b"},
{"p":1,"x":69.1,"v":0.69,"c":"b"},{"p":1,"x":74.81,"v":0.5,"c":"b"},{"p":1,"x":75.07,"v":0.46,"c":"b"},{"p":1,"x":78.52,"v":0.73,"c":"b"},{"p":1,"x":78.79,"v":0.58,"c":"b"},{"p":1,"x":86.23,"v":0.58,"c":"b"},{"p":1,"x":90.21,"v":0.42,"c":"b"},{"p":1,"x":97.12,"v":1.0,"c":"b"},{"p":1,"x":96.72,"v":0.5,"c":"b"},{"p":1,"x":102.03,"v":0.46,"c":"b"},{"p":1,"x":102.56,"v":0.46,"c":"b"},{"p":1,"x":104.42,"v":0.42,"c":"b"},{"p":1,"x":106.15,"v":0.5,"c":"b"},{"p":1,"x":109.2,"v":0.5,"c":"b"},{"p":1,"x":111.99,"v":0.46,"c":"b"},{"p":1,"x":113.85,"v":0.54,"c":"b"},{"p":1,"x":115.18,"v":0.88,"c":"b"},{"p":1,"x":118.1,"v":1.27,"c":"b"},{"p":1,"x":122.22,"v":0.54,"c":"b"},{"p":1,"x":124.74,"v":0.65,"c":"b"},{"p":1,"x":127.66,"v":0.42,"c":"b"},{"p":1,"x":128.46,"v":2.19,"c":"b"},{"p":1,"x":130.45,"v":0.42,"c":"b"},{"p":1,"x":131.25,"v":0.46,"c":"b"},{"p":1,"x":133.24,"v":0.54,"c":"b"},{"p":1,"x":136.03,"v":0.54,"c":"b"},{"p":1,"x":136.29,"v":0.5,"c":"b"},{"p":1,"x":145.99,"v":0.46,"c":"b"},{"p":1,"x":146.38,"v":0.5,"c":"b"},{"p":1,"x":148.24,"v":0.46,"c":"b"},{"p":1,"x":155.55,"v":0.65,"c":"b"},{"p":1,"x":156.35,"v":0.46,"c":"b"},{"p":1,"x":157.54,"v":0.46,"c":"b"},{"p":1,"x":158.07,"v":0.73,"c":"b"},{"p":1,"x":169.09,"v":0.69,"c":"b"},{"p":1,"x":173.21,"v":0.65,"c":"b"},{"p":1,"x":172.81,"v":0.42,"c":"b"},{"p":1,"x":174.14,"v":0.62,"c":"b"},{"p":1,"x":176.27,"v":0.5,"c":"b"},{"p":1,"x":177.46,"v":0.42,"c":"b"},{"p":1,"x":178.26,"v":0.5,"c":"b"},{"p":1,"x":180.51,"v":0.5,"c":"b"},
{"p":1,"x":11.19,"v":-1.42,"c":"r"},{"p":1,"x":11.86,"v":-0.88,"c":"r"},{"p":1,"x":11.59,"v":-1.0,"c":"r"},{"p":1,"x":14.51,"v":-0.96,"c":"r"},{"p":1,"x":11.33,"v":-2.54,"c":"r"},{"p":1,"x":12.12,"v":-2.69,"c":"r"},{"p":1,"x":24.34,"v":-1.08,"c":"r"},{"p":1,"x":25.27,"v":-1.12,"c":"r"},{"p":1,"x":24.3,"v":-1.5,"c":"r"},{"p":1,"x":24.74,"v":-1.38,"c":"r"},{"p":1,"x":25.54,"v":-0.77,"c":"r"},{"p":1,"x":25.94,"v":-1.58,"c":"r"},{"p":1,"x":44.4,"v":-1.65,"c":"r"},{"p":1,"x":49.31,"v":-0.77,"c":"r"},{"p":1,"x":49.84,"v":-1.12,"c":"r"},{"p":1,"x":57.14,"v":-1.23,"c":"r"},{"p":1,"x":57.81,"v":-0.73,"c":"r"},{"p":1,"x":73.74,"v":-0.85,"c":"r"},{"p":1,"x":74.81,"v":-1.15,"c":"r"},{"p":1,"x":91.14,"v":-1.15,"c":"r"},{"p":1,"x":109.33,"v":-0.77,"c":"r"},{"p":1,"x":111.19,"v":-0.81,"c":"r"},{"p":1,"x":111.72,"v":-0.92,"c":"r"},{"p":1,"x":120.22,"v":-0.88,"c":"r"},{"p":1,"x":135.76,"v":-1.23,"c":"r"},{"p":1,"x":144.39,"v":-1.04,"c":"r"},{"p":1,"x":145.06,"v":-0.73,"c":"r"},{"p":1,"x":173.61,"v":-0.88,"c":"r"},{"p":1,"x":174.81,"v":-0.81,"c":"r"},
{"p":2,"x":10.66,"v":1.44,"c":"b"},{"p":2,"x":12.52,"v":0.6,"c":"b"},{"p":2,"x":14.71,"v":0.51,"c":"b"},{"p":2,"x":18.5,"v":0.55,"c":"b"},{"p":2,"x":25.8,"v":0.81,"c":"b"},{"p":2,"x":39.08,"v":1.07,"c":"b"},{"p":2,"x":42.27,"v":0.6,"c":"b"},{"p":2,"x":47.32,"v":0.38,"c":"b"},{"p":2,"x":63.52,"v":0.6,"c":"b"},{"p":2,"x":64.31,"v":0.66,"c":"b"},{"p":2,"x":64.85,"v":0.93,"c":"b"},{"p":2,"x":65.11,"v":0.53,"c":"b"},{"p":2,"x":66.04,"v":0.62,"c":"b"},{"p":2,"x":66.44,"v":0.66,"c":"b"},{"p":2,"x":66.84,"v":0.74,"c":"b"},{"p":2,"x":66.17,"v":0.41,"c":"b"},{"p":2,"x":63.6,"v":0.43,"c":"b"},{"p":2,"x":69.1,"v":0.81,"c":"b"},{"p":2,"x":74.81,"v":0.43,"c":"b"},{"p":2,"x":78.66,"v":0.5,"c":"b"},{"p":2,"x":78.39,"v":0.37,"c":"b"},{"p":2,"x":86.23,"v":0.55,"c":"b"},{"p":2,"x":97.12,"v":0.76,"c":"b"},{"p":2,"x":96.72,"v":0.42,"c":"b"},{"p":2,"x":99.64,"v":0.42,"c":"b"},{"p":2,"x":102.49,"v":0.6,"c":"b"},{"p":2,"x":113.85,"v":0.47,"c":"b"},{"p":2,"x":115.31,"v":0.66,"c":"b"},{"p":2,"x":118.1,"v":1.07,"c":"b"},{"p":2,"x":124.8,"v":0.55,"c":"b"},{"p":2,"x":128.06,"v":0.45,"c":"b"},{"p":2,"x":128.59,"v":1.86,"c":"b"},{"p":2,"x":131.25,"v":0.52,"c":"b"},{"p":2,"x":136.16,"v":0.5,"c":"b"},{"p":2,"x":146.52,"v":0.51,"c":"b"},{"p":2,"x":155.62,"v":0.66,"c":"b"},{"p":2,"x":158.2,"v":0.62,"c":"b"},{"p":2,"x":169.17,"v":0.62,"c":"b"},{"p":2,"x":173.21,"v":0.69,"c":"b"},{"p":2,"x":174.22,"v":0.62,"c":"b"},{"p":2,"x":176.35,"v":0.52,"c":"b"},
{"p":2,"x":11.19,"v":-1.45,"c":"r"},{"p":2,"x":11.59,"v":-1.08,"c":"r"},{"p":2,"x":11.86,"v":-0.89,"c":"r"},{"p":2,"x":11.33,"v":-2.55,"c":"r"},{"p":2,"x":12.19,"v":-2.7,"c":"r"},{"p":2,"x":14.51,"v":-0.96,"c":"r"},{"p":2,"x":16.24,"v":-0.77,"c":"r"},{"p":2,"x":24.21,"v":-1.17,"c":"r"},{"p":2,"x":24.74,"v":-1.02,"c":"r"},{"p":2,"x":25.47,"v":-1.2,"c":"r"},{"p":2,"x":24.21,"v":-1.67,"c":"r"},{"p":2,"x":25.94,"v":-1.51,"c":"r"},{"p":2,"x":44.46,"v":-1.77,"c":"r"},{"p":2,"x":49.31,"v":-0.77,"c":"r"},{"p":2,"x":49.84,"v":-1.14,"c":"r"},{"p":2,"x":57.08,"v":-1.41,"c":"r"},{"p":2,"x":64.58,"v":-1.1,"c":"r"},{"p":2,"x":74.81,"v":-1.27,"c":"r"},{"p":2,"x":91.27,"v":-1.3,"c":"r"},{"p":2,"x":109.47,"v":-0.82,"c":"r"},{"p":2,"x":120.22,"v":-0.85,"c":"r"},{"p":2,"x":132.04,"v":-0.77,"c":"r"},{"p":2,"x":135.84,"v":-1.14,"c":"r"},{"p":2,"x":144.39,"v":-0.97,"c":"r"},{"p":2,"x":170.95,"v":-0.82,"c":"r"},
{"p":3,"x":10.66,"v":1.41,"c":"b"},{"p":3,"x":12.52,"v":0.6,"c":"b"},{"p":3,"x":14.71,"v":0.51,"c":"b"},{"p":3,"x":18.5,"v":0.51,"c":"b"},{"p":3,"x":25.8,"v":0.79,"c":"b"},{"p":3,"x":39.08,"v":1.24,"c":"b"},{"p":3,"x":42.27,"v":0.51,"c":"b"},{"p":3,"x":63.52,"v":0.64,"c":"b"},{"p":3,"x":64.85,"v":0.86,"c":"b"},{"p":3,"x":65.11,"v":0.6,"c":"b"},{"p":3,"x":66.04,"v":0.79,"c":"b"},{"p":3,"x":66.57,"v":0.69,"c":"b"},{"p":3,"x":66.84,"v":0.67,"c":"b"},{"p":3,"x":69.1,"v":0.77,"c":"b"},{"p":3,"x":74.81,"v":0.51,"c":"b"},{"p":3,"x":75.07,"v":0.54,"c":"b"},{"p":3,"x":78.79,"v":0.47,"c":"b"},{"p":3,"x":86.23,"v":0.45,"c":"b"},{"p":3,"x":97.12,"v":0.9,"c":"b"},{"p":3,"x":99.64,"v":0.51,"c":"b"},{"p":3,"x":102.49,"v":0.6,"c":"b"},{"p":3,"x":104.55,"v":0.47,"c":"b"},{"p":3,"x":111.99,"v":0.47,"c":"b"},{"p":3,"x":113.85,"v":0.45,"c":"b"},{"p":3,"x":115.31,"v":0.64,"c":"b"},{"p":3,"x":118.1,"v":0.9,"c":"b"},{"p":3,"x":124.8,"v":0.56,"c":"b"},{"p":3,"x":128.06,"v":0.77,"c":"b"},{"p":3,"x":128.59,"v":2.14,"c":"b"},{"p":3,"x":131.25,"v":0.56,"c":"b"},{"p":3,"x":146.52,"v":0.51,"c":"b"},{"p":3,"x":148.38,"v":0.51,"c":"b"},{"p":3,"x":153.77,"v":0.6,"c":"b"},{"p":3,"x":155.51,"v":0.69,"c":"b"},{"p":3,"x":155.68,"v":0.51,"c":"b"},{"p":3,"x":158.2,"v":0.7,"c":"b"},{"p":3,"x":160.33,"v":0.5,"c":"b"},{"p":3,"x":169.17,"v":0.56,"c":"b"},{"p":3,"x":173.21,"v":0.7,"c":"b"},{"p":3,"x":174.22,"v":0.51,"c":"b"},{"p":3,"x":177.46,"v":0.47,"c":"b"},{"p":3,"x":178.39,"v":0.64,"c":"b"},
{"p":3,"x":11.19,"v":-1.41,"c":"r"},{"p":3,"x":11.59,"v":-1.0,"c":"r"},{"p":3,"x":11.33,"v":-2.28,"c":"r"},{"p":3,"x":11.53,"v":-2.47,"c":"r"},{"p":3,"x":12.26,"v":-2.6,"c":"r"},{"p":3,"x":14.51,"v":-0.91,"c":"r"},{"p":3,"x":16.24,"v":-0.74,"c":"r"},{"p":3,"x":24.21,"v":-1.0,"c":"r"},{"p":3,"x":24.74,"v":-1.1,"c":"r"},{"p":3,"x":25.47,"v":-1.1,"c":"r"},{"p":3,"x":24.21,"v":-1.55,"c":"r"},{"p":3,"x":25.94,"v":-1.51,"c":"r"},{"p":3,"x":44.46,"v":-1.81,"c":"r"},{"p":3,"x":49.84,"v":-0.96,"c":"r"},{"p":3,"x":57.81,"v":-0.68,"c":"r"},{"p":3,"x":57.08,"v":-1.23,"c":"r"},{"p":3,"x":64.58,"v":-1.1,"c":"r"},{"p":3,"x":74.81,"v":-1.13,"c":"r"},{"p":3,"x":91.27,"v":-1.1,"c":"r"},{"p":3,"x":120.22,"v":-0.72,"c":"r"},{"p":3,"x":135.84,"v":-0.81,"c":"r"},{"p":3,"x":144.39,"v":-0.81,"c":"r"},{"p":3,"x":170.95,"v":-0.81,"c":"r"},
{"p":4,"x":10.66,"v":0.89,"c":"b"},{"p":4,"x":11.99,"v":0.75,"c":"b"},{"p":4,"x":12.52,"v":0.6,"c":"b"},{"p":4,"x":12.92,"v":0.53,"c":"b"},{"p":4,"x":13.32,"v":0.51,"c":"b"},{"p":4,"x":14.78,"v":0.54,"c":"b"},{"p":4,"x":18.5,"v":0.66,"c":"b"},{"p":4,"x":25.8,"v":0.89,"c":"b"},{"p":4,"x":25.27,"v":0.47,"c":"b"},{"p":4,"x":39.08,"v":1.35,"c":"b"},{"p":4,"x":42.14,"v":0.48,"c":"b"},
{"p":4,"x":63.25,"v":1.92,"c":"b"},{"p":4,"x":63.52,"v":1.78,"c":"b"},{"p":4,"x":64.58,"v":1.56,"c":"b"},{"p":4,"x":64.45,"v":1.04,"c":"b"},{"p":4,"x":64.62,"v":0.85,"c":"b"},{"p":4,"x":64.85,"v":0.98,"c":"b"},{"p":4,"x":64.18,"v":0.76,"c":"b"},{"p":4,"x":64.31,"v":0.47,"c":"b"},{"p":4,"x":65.24,"v":1.17,"c":"b"},{"p":4,"x":65.51,"v":1.62,"c":"b"},{"p":4,"x":65.91,"v":2.05,"c":"b"},{"p":4,"x":66.17,"v":1.81,"c":"b"},{"p":4,"x":66.44,"v":1.5,"c":"b"},{"p":4,"x":66.57,"v":1.94,"c":"b"},{"p":4,"x":66.84,"v":1.69,"c":"b"},{"p":4,"x":66.7,"v":1.37,"c":"b"},{"p":4,"x":66.2,"v":1.3,"c":"b"},{"p":4,"x":65.95,"v":1.11,"c":"b"},{"p":4,"x":66.44,"v":0.66,"c":"b"},{"p":4,"x":65.11,"v":0.79,"c":"b"},{"p":4,"x":69.1,"v":0.69,"c":"b"},
{"p":4,"x":74.81,"v":0.58,"c":"b"},{"p":4,"x":75.07,"v":0.49,"c":"b"},{"p":4,"x":78.66,"v":0.52,"c":"b"},{"p":4,"x":86.23,"v":0.58,"c":"b"},{"p":4,"x":97.12,"v":1.04,"c":"b"},{"p":4,"x":96.85,"v":0.45,"c":"b"},{"p":4,"x":102.03,"v":0.47,"c":"b"},{"p":4,"x":102.43,"v":0.5,"c":"b"},{"p":4,"x":106.28,"v":0.55,"c":"b"},{"p":4,"x":114.11,"v":0.52,"c":"b"},{"p":4,"x":115.31,"v":0.9,"c":"b"},{"p":4,"x":116.5,"v":0.49,"c":"b"},{"p":4,"x":118.23,"v":1.17,"c":"b"},{"p":4,"x":121.29,"v":0.47,"c":"b"},{"p":4,"x":124.87,"v":0.62,"c":"b"},{"p":4,"x":128.06,"v":0.58,"c":"b"},{"p":4,"x":128.72,"v":2.02,"c":"b"},{"p":4,"x":131.38,"v":0.71,"c":"b"},{"p":4,"x":136.56,"v":0.52,"c":"b"},{"p":4,"x":155.68,"v":0.62,"c":"b"},{"p":4,"x":156.35,"v":0.56,"c":"b"},{"p":4,"x":156.75,"v":0.56,"c":"b"},{"p":4,"x":158.47,"v":1.12,"c":"b"},{"p":4,"x":169.49,"v":0.54,"c":"b"},{"p":4,"x":173.48,"v":0.71,"c":"b"},{"p":4,"x":174.54,"v":0.62,"c":"b"},{"p":4,"x":176.66,"v":0.52,"c":"b"},{"p":4,"x":176.93,"v":0.56,"c":"b"},{"p":4,"x":177.86,"v":0.52,"c":"b"},
{"p":4,"x":11.19,"v":-0.75,"c":"r"},{"p":4,"x":12.26,"v":-0.85,"c":"r"},{"p":4,"x":24.08,"v":-1.13,"c":"r"},{"p":4,"x":24.74,"v":-1.11,"c":"r"},{"p":4,"x":25.27,"v":-1.11,"c":"r"},{"p":4,"x":25.54,"v":-0.75,"c":"r"},{"p":4,"x":25.6,"v":-1.2,"c":"r"},{"p":4,"x":24.08,"v":-1.67,"c":"r"},{"p":4,"x":25.94,"v":-1.67,"c":"r"},{"p":4,"x":44.4,"v":-1.78,"c":"r"},{"p":4,"x":49.31,"v":-0.72,"c":"r"},{"p":4,"x":49.84,"v":-0.98,"c":"r"},{"p":4,"x":57.14,"v":-1.2,"c":"r"},{"p":4,"x":74.81,"v":-1.13,"c":"r"},{"p":4,"x":91.27,"v":-1.04,"c":"r"},{"p":4,"x":109.55,"v":-0.81,"c":"r"},{"p":4,"x":111.99,"v":-0.71,"c":"r"},{"p":4,"x":120.36,"v":-0.75,"c":"r"},{"p":4,"x":135.96,"v":-0.92,"c":"r"},{"p":4,"x":144.66,"v":-0.79,"c":"r"},{"p":4,"x":171.22,"v":-1.62,"c":"r"}
],
"guides":[{"g":8.333},{"g":10},{"g":11.667},{"g":13.333},{"g":15},{"g":16.667},{"g":18.333},{"g":20},{"g":21.667},{"g":23.333},{"g":25},{"g":26.667},{"g":28.333},{"g":30},{"g":31.667},{"g":33.333},{"g":35},{"g":36.667},{"g":38.333},{"g":40},{"g":41.667},{"g":43.333},{"g":45},{"g":46.667},{"g":48.333},{"g":50},{"g":51.667},{"g":53.333},{"g":55},{"g":56.667},{"g":58.333},{"g":60},{"g":61.667},{"g":63.333},{"g":65},{"g":66.667},{"g":68.333},{"g":70},{"g":71.667},{"g":73.333},{"g":75},{"g":76.667},{"g":78.333},{"g":80},{"g":81.667},{"g":83.333},{"g":85},{"g":86.667},{"g":88.333},{"g":90},{"g":91.667},{"g":93.333},{"g":95},{"g":96.667},{"g":98.333},{"g":100},{"g":101.667},{"g":103.333},{"g":105},{"g":106.667},{"g":108.333},{"g":110},{"g":111.667},{"g":113.333},{"g":115},{"g":116.667},{"g":118.333},{"g":120},{"g":121.667},{"g":123.333},{"g":125},{"g":126.667},{"g":128.333},{"g":130},{"g":131.667},{"g":133.333},{"g":135},{"g":136.667},{"g":138.333},{"g":140},{"g":141.667},{"g":143.333},{"g":145},{"g":146.667},{"g":148.333},{"g":150},{"g":151.667},{"g":153.333},{"g":155},{"g":156.667},{"g":158.333},{"g":160},{"g":161.667},{"g":163.333},{"g":165},{"g":166.667},{"g":168.333},{"g":170},{"g":171.667},{"g":173.333},{"g":175},{"g":176.667},{"g":178.333},{"g":180}],
"ruler":[{"k":10,"lab":""},{"k":20,"lab":"24,420,000"},{"k":30,"lab":"24,430,000"},{"k":40,"lab":"24,440,000"},{"k":50,"lab":"24,450,000"},{"k":60,"lab":"24,460,000"},{"k":70,"lab":"24,470,000"},{"k":80,"lab":"24,480,000"},{"k":90,"lab":"24,490,000"},{"k":100,"lab":"24,500,000"},{"k":110,"lab":"24,510,000"},{"k":120,"lab":"24,520,000"},{"k":130,"lab":"24,530,000"},{"k":140,"lab":"24,540,000"},{"k":150,"lab":"24,550,000"},{"k":160,"lab":"24,560,000"},{"k":170,"lab":"24,570,000"},{"k":180,"lab":"24,580,000"}],
"sbar":[{"s":70.1,"e":120.1,"lab":"50 kb","asm":"mm9"}],
"cov":[
{"x":9.34,"h":11},{"x":11.19,"h":8},{"x":11.59,"h":6},{"x":11.99,"h":14},{"x":13.45,"h":15},
{"x":15.44,"h":12},{"x":15.71,"h":14},{"x":15.98,"h":14},{"x":16.24,"h":10},{"x":16.51,"h":13},{"x":16.77,"h":12},{"x":17.04,"h":13},{"x":17.3,"h":11},{"x":17.57,"h":9},{"x":17.83,"h":7},
{"x":18.76,"h":14},{"x":19.03,"h":12},{"x":19.3,"h":13},{"x":19.56,"h":11},{"x":19.96,"h":8},{"x":20.76,"h":4},
{"x":22.48,"h":12},{"x":23.15,"h":11},{"x":23.68,"h":13},{"x":24.21,"h":11},{"x":24.87,"h":14},{"x":26.47,"h":10},
{"x":27.93,"h":19},{"x":28.06,"h":16},{"x":28.33,"h":13},{"x":28.59,"h":8},{"x":28.99,"h":5},{"x":29.26,"h":5},{"x":29.52,"h":5},{"x":29.92,"h":16},{"x":30.19,"h":11},{"x":30.58,"h":14},{"x":31.11,"h":18},
{"x":33.77,"h":14},{"x":34.83,"h":9},
{"x":41.34,"h":11},{"x":41.48,"h":11},{"x":41.61,"h":11},{"x":41.74,"h":11},{"x":41.87,"h":11},
{"x":43.86,"h":12},{"x":44.0,"h":12},{"x":44.13,"h":12},{"x":44.26,"h":12},{"x":44.39,"h":12},
{"x":47.98,"h":10},{"x":48.78,"h":10},{"x":49.57,"h":12},{"x":50.5,"h":13},{"x":51.17,"h":9},{"x":51.83,"h":14},{"x":52.63,"h":10},{"x":54.09,"h":16},{"x":54.62,"h":12},{"x":56.08,"h":9},{"x":56.75,"h":11},{"x":57.14,"h":13},{"x":59.27,"h":8},
{"x":62.99,"h":8},{"x":63.39,"h":12},{"x":63.92,"h":15},{"x":64.31,"h":18},
{"x":69.63,"h":13},{"x":70.03,"h":13},{"x":70.69,"h":15},{"x":71.62,"h":12},{"x":72.55,"h":13},{"x":73.08,"h":16},{"x":73.61,"h":12},{"x":74.01,"h":15},{"x":74.54,"h":13},{"x":75.07,"h":11},{"x":75.6,"h":20},{"x":76.13,"h":15},{"x":77.59,"h":12},{"x":78.13,"h":10},{"x":78.52,"h":14},{"x":79.19,"h":13},
{"x":82.77,"h":11},{"x":83.31,"h":14},{"x":84.1,"h":22},{"x":84.63,"h":13},{"x":85.43,"h":12},{"x":86.36,"h":12},{"x":86.76,"h":10},{"x":87.55,"h":15},{"x":87.95,"h":18},{"x":88.48,"h":14},{"x":88.88,"h":12},{"x":89.28,"h":16},{"x":89.81,"h":11},{"x":90.34,"h":15},{"x":90.87,"h":13},{"x":91.54,"h":13},{"x":92.07,"h":15},
{"x":93.27,"h":17},{"x":93.93,"h":13},{"x":94.46,"h":15},{"x":94.86,"h":13},{"x":95.79,"h":12},{"x":96.59,"h":13},{"x":97.25,"h":15},{"x":97.78,"h":17},{"x":98.18,"h":13},{"x":98.84,"h":17},{"x":99.77,"h":12},{"x":100.83,"h":12},{"x":101.23,"h":13},{"x":102.03,"h":15},{"x":102.96,"h":12},{"x":103.62,"h":12},{"x":104.55,"h":12},{"x":105.75,"h":11},
{"x":107.47,"h":18},{"x":107.87,"h":15},{"x":108.4,"h":13},{"x":109.6,"h":18},{"x":110.26,"h":13},{"x":111.19,"h":15},{"x":111.99,"h":17},{"x":112.65,"h":13},{"x":113.72,"h":15},{"x":114.38,"h":18},{"x":115.04,"h":13},{"x":116.64,"h":13},{"x":117.43,"h":15},{"x":118.1,"h":14},{"x":118.76,"h":13},{"x":119.56,"h":15},{"x":120.22,"h":13},{"x":120.75,"h":12},{"x":121.29,"h":12},
{"x":125.54,"h":11},{"x":126.2,"h":12},{"x":126.86,"h":13},{"x":127.53,"h":13},{"x":128.32,"h":16},{"x":128.99,"h":12},{"x":129.65,"h":16},{"x":130.58,"h":13},{"x":131.25,"h":12},{"x":131.91,"h":12},{"x":132.84,"h":11},{"x":133.5,"h":12},{"x":134.17,"h":13},{"x":134.83,"h":14},{"x":135.5,"h":14},
{"x":136.82,"h":12},{"x":137.62,"h":17},{"x":138.28,"h":15},{"x":138.95,"h":14},{"x":139.88,"h":18},{"x":140.28,"h":13},{"x":140.94,"h":11},{"x":141.47,"h":10},{"x":142.67,"h":11},{"x":143.2,"h":17},{"x":143.86,"h":15},{"x":144.53,"h":13},{"x":144.92,"h":12},{"x":145.46,"h":12},{"x":146.25,"h":13},{"x":147.58,"h":12},{"x":148.24,"h":11},{"x":149.17,"h":16},{"x":149.71,"h":18},{"x":150.24,"h":17},{"x":150.9,"h":15},{"x":151.43,"h":16},{"x":152.23,"h":18},
{"x":154.88,"h":13},{"x":155.42,"h":13},{"x":156.08,"h":15},{"x":156.74,"h":13},{"x":157.41,"h":12},{"x":158.07,"h":11},{"x":158.87,"h":10},{"x":160.06,"h":13},{"x":160.46,"h":15},{"x":160.86,"h":18},{"x":161.39,"h":15},
{"x":168.43,"h":12},{"x":169.09,"h":13},{"x":169.76,"h":13},{"x":170.42,"h":10},{"x":171.75,"h":13},{"x":172.41,"h":12},{"x":173.08,"h":17},{"x":173.48,"h":18},{"x":174.01,"h":20},{"x":174.67,"h":18},{"x":175.34,"h":16},{"x":176.13,"h":12},{"x":176.66,"h":13},{"x":177.46,"h":13},{"x":177.86,"h":12}
],
"spk":[
{"x":30.85,"a":43,"b":46,"c":37,"d":43},
{"x":64.71,"a":23,"b":15,"c":14,"d":17},
{"x":65.11,"a":55,"b":24,"c":23,"d":110},
{"x":65.24,"a":45,"b":20,"c":18,"d":73},
{"x":66.44,"a":6,"b":6,"c":6,"d":8},
{"x":67.37,"a":90,"b":43,"c":37,"d":130},
{"x":67.64,"a":85,"b":38,"c":30,"d":92},
{"x":68.03,"a":65,"b":30,"c":22,"d":130},
{"x":68.17,"a":50,"b":25,"c":18,"d":62},
{"x":68.3,"a":42,"b":20,"c":15,"d":20},
{"x":92.47,"a":21,"b":110,"c":78,"d":18}
],
"cnv":[{"s":64.85,"e":68.43}],
"tx":[{"t":1,"s":19.3,"e":169.09},{"t":2,"s":106.94,"e":169.09}],
"ex":[{"k":1,"s":19.25,"e":19.45},{"k":1,"s":86.95,"e":87.15},{"k":2,"s":108.4,"e":109.33},{"k":2,"s":114.3,"e":114.5},{"k":2,"s":120.55,"e":120.75},{"k":2,"s":122.15,"e":122.35},{"k":2,"s":126.8,"e":126.98},{"k":2,"s":127.15,"e":127.33},{"k":2,"s":128.4,"e":128.58},{"k":2,"s":130.8,"e":130.98},{"k":2,"s":148.7,"e":148.88},{"k":2,"s":151.78,"e":151.96},{"k":2,"s":155.75,"e":155.93},{"k":2,"s":158.27,"e":158.45},{"k":2,"s":160.15,"e":160.33},{"k":3,"s":161.39,"e":168.96}]
},
"vconcat":[
{"width":1322,"height":195.5,"layer":[
{"data":{"name":"dots"},"mark":{"type":"rule","color":"#4f5d6a","strokeWidth":1.3,"strokeDash":[1.3,1.9]},"encoding":{"y":{"field":"v","type":"quantitative","scale":{"domain":[-3.52,4],"nice":false,"zero":false},"axis":null}}},
{"data":{"name":"blk"},"mark":{"type":"rule","color":"#1c1c1c","strokeWidth":2.2},"encoding":{"y":{"field":"v","type":"quantitative","axis":null}}},
{"data":{"values":[{"v":3.96}]},"mark":{"type":"rule","color":"#a6a6a6","strokeWidth":3},"encoding":{"y":{"field":"v","type":"quantitative","axis":null}}},
{"data":{"name":"seg"},"mark":{"type":"rect","stroke":"#34404a","strokeWidth":0.6,"color":{"gradient":"linear","x1":0,"y1":0,"x2":1,"y2":0,"stops":[{"offset":0,"color":"#474747"},{"offset":0.32,"color":"#6a9ec8"},{"offset":1,"color":"#5ab0e6"}]}},"encoding":{"x":{"field":"s","type":"quantitative","axis":null},"x2":{"field":"e"},"y":{"datum":-2.64,"type":"quantitative","axis":null},"y2":{"datum":-2.86}}},
{"data":{"name":"grey"},"mark":{"type":"square","size":26,"color":"#c3c3c3","opacity":1},"encoding":{"x":{"field":"x","type":"quantitative","scale":{"domain":[5.75,181.3],"nice":false,"zero":false},"axis":null},"y":{"field":"v","type":"quantitative","axis":null}}},
{"data":{"name":"smooth"},"mark":{"type":"line","color":"#e2332a","strokeWidth":1.4},"encoding":{"x":{"field":"x","type":"quantitative","axis":null},"y":{"field":"a","type":"quantitative","axis":null}}},
{"data":{"name":"out"},"transform":[{"filter":"datum.p == 1"}],"mark":{"type":"circle","size":38,"opacity":1},"encoding":{"x":{"field":"x","type":"quantitative","axis":null},"y":{"field":"v","type":"quantitative","axis":null},"color":{"field":"c","type":"nominal","scale":{"domain":["b","r"],"range":["#2e5db6","#ee2a22"]},"legend":null}}},
{"data":{"name":"cmah"},"mark":{"type":"text","angle":-55,"fontSize":10,"color":"#858585","font":"DejaVu Sans","fontStyle":"italic"},"encoding":{"x":{"field":"x","type":"quantitative","axis":null},"y":{"datum":-1.77,"type":"quantitative","axis":null},"text":{"field":"t"}}}
]},
{"width":1322,"height":195.5,"layer":[
{"data":{"name":"dots"},"mark":{"type":"rule","color":"#4f5d6a","strokeWidth":1.3,"strokeDash":[1.3,1.9]},"encoding":{"y":{"field":"v","type":"quantitative","scale":{"domain":[-3.52,4],"nice":false,"zero":false},"axis":null}}},
{"data":{"name":"blk"},"mark":{"type":"rule","color":"#1c1c1c","strokeWidth":2.2},"encoding":{"y":{"field":"v","type":"quantitative","axis":null}}},
{"data":{"name":"seg"},"mark":{"type":"rect","stroke":"#34404a","strokeWidth":0.6,"color":{"gradient":"linear","x1":0,"y1":0,"x2":1,"y2":0,"stops":[{"offset":0,"color":"#474747"},{"offset":0.32,"color":"#6a9ec8"},{"offset":1,"color":"#5ab0e6"}]}},"encoding":{"x":{"field":"s","type":"quantitative","axis":null},"x2":{"field":"e"},"y":{"datum":-2.64,"type":"quantitative","axis":null},"y2":{"datum":-2.86}}},
{"data":{"name":"grey"},"mark":{"type":"square","size":26,"color":"#c3c3c3","opacity":1},"encoding":{"x":{"field":"x","type":"quantitative","scale":{"domain":[5.75,181.3],"nice":false,"zero":false},"axis":null},"y":{"field":"v","type":"quantitative","axis":null}}},
{"data":{"name":"smooth"},"mark":{"type":"line","color":"#e4b12e","strokeWidth":1.4},"encoding":{"x":{"field":"x","type":"quantitative","axis":null},"y":{"field":"b","type":"quantitative","axis":null}}},
{"data":{"name":"out"},"transform":[{"filter":"datum.p == 2"}],"mark":{"type":"circle","size":38,"opacity":1},"encoding":{"x":{"field":"x","type":"quantitative","axis":null},"y":{"field":"v","type":"quantitative","axis":null},"color":{"field":"c","type":"nominal","scale":{"domain":["b","r"],"range":["#2e5db6","#ee2a22"]},"legend":null}}},
{"data":{"name":"cmah"},"mark":{"type":"text","angle":-55,"fontSize":10,"color":"#858585","font":"DejaVu Sans","fontStyle":"italic"},"encoding":{"x":{"field":"x","type":"quantitative","axis":null},"y":{"datum":-1.77,"type":"quantitative","axis":null},"text":{"field":"t"}}}
]},
{"width":1322,"height":195.5,"layer":[
{"data":{"name":"dots"},"mark":{"type":"rule","color":"#4f5d6a","strokeWidth":1.3,"strokeDash":[1.3,1.9]},"encoding":{"y":{"field":"v","type":"quantitative","scale":{"domain":[-3.52,4],"nice":false,"zero":false},"axis":null}}},
{"data":{"name":"blk"},"mark":{"type":"rule","color":"#1c1c1c","strokeWidth":2.2},"encoding":{"y":{"field":"v","type":"quantitative","axis":null}}},
{"data":{"name":"seg"},"mark":{"type":"rect","stroke":"#34404a","strokeWidth":0.6,"color":{"gradient":"linear","x1":0,"y1":0,"x2":1,"y2":0,"stops":[{"offset":0,"color":"#474747"},{"offset":0.32,"color":"#6a9ec8"},{"offset":1,"color":"#5ab0e6"}]}},"encoding":{"x":{"field":"s","type":"quantitative","axis":null},"x2":{"field":"e"},"y":{"datum":-2.64,"type":"quantitative","axis":null},"y2":{"datum":-2.86}}},
{"data":{"name":"grey"},"mark":{"type":"square","size":26,"color":"#c3c3c3","opacity":1},"encoding":{"x":{"field":"x","type":"quantitative","scale":{"domain":[5.75,181.3],"nice":false,"zero":false},"axis":null},"y":{"field":"v","type":"quantitative","axis":null}}},
{"data":{"name":"smooth"},"mark":{"type":"line","color":"#5c3312","strokeWidth":1.5},"encoding":{"x":{"field":"x","type":"quantitative","axis":null},"y":{"field":"c","type":"quantitative","axis":null}}},
{"data":{"name":"out"},"transform":[{"filter":"datum.p == 3"}],"mark":{"type":"circle","size":38,"opacity":1},"encoding":{"x":{"field":"x","type":"quantitative","axis":null},"y":{"field":"v","type":"quantitative","axis":null},"color":{"field":"c","type":"nominal","scale":{"domain":["b","r"],"range":["#2e5db6","#ee2a22"]},"legend":null}}},
{"data":{"name":"cmah"},"mark":{"type":"text","angle":-55,"fontSize":10,"color":"#858585","font":"DejaVu Sans","fontStyle":"italic"},"encoding":{"x":{"field":"x","type":"quantitative","axis":null},"y":{"datum":-1.77,"type":"quantitative","axis":null},"text":{"field":"t"}}}
]},
{"width":1322,"height":195.5,"layer":[
{"data":{"name":"dots"},"mark":{"type":"rule","color":"#4f5d6a","strokeWidth":1.3,"strokeDash":[1.3,1.9]},"encoding":{"y":{"field":"v","type":"quantitative","scale":{"domain":[-3.52,4],"nice":false,"zero":false},"axis":null}}},
{"data":{"name":"blk4"},"mark":{"type":"rule","color":"#1c1c1c","strokeWidth":2.2},"encoding":{"y":{"field":"v","type":"quantitative","axis":null}}},
{"data":{"name":"seg"},"mark":{"type":"rect","stroke":"#34404a","strokeWidth":0.6,"color":{"gradient":"linear","x1":0,"y1":0,"x2":1,"y2":0,"stops":[{"offset":0,"color":"#474747"},{"offset":0.32,"color":"#6a9ec8"},{"offset":1,"color":"#5ab0e6"}]}},"encoding":{"x":{"field":"s","type":"quantitative","axis":null},"x2":{"field":"e"},"y":{"datum":-2.64,"type":"quantitative","axis":null},"y2":{"datum":-2.86}}},
{"data":{"name":"grey"},"mark":{"type":"square","size":26,"color":"#c3c3c3","opacity":1},"encoding":{"x":{"field":"x","type":"quantitative","scale":{"domain":[5.75,181.3],"nice":false,"zero":false},"axis":null},"y":{"field":"v","type":"quantitative","axis":null}}},
{"data":{"name":"smooth"},"mark":{"type":"line","color":"#222222","strokeWidth":1.3},"encoding":{"x":{"field":"x","type":"quantitative","axis":null},"y":{"field":"d","type":"quantitative","axis":null}}},
{"data":{"name":"out"},"transform":[{"filter":"datum.p == 4"}],"mark":{"type":"circle","size":38,"opacity":1},"encoding":{"x":{"field":"x","type":"quantitative","axis":null},"y":{"field":"v","type":"quantitative","axis":null},"color":{"field":"c","type":"nominal","scale":{"domain":["b","r"],"range":["#2e5db6","#ee2a22"]},"legend":null}}},
{"data":{"name":"cmah"},"mark":{"type":"text","angle":-55,"fontSize":10,"color":"#858585","font":"DejaVu Sans","fontStyle":"italic"},"encoding":{"x":{"field":"x","type":"quantitative","axis":null},"y":{"datum":-1.77,"type":"quantitative","axis":null},"text":{"field":"t"}}}
]},
{"width":1322,"height":16,"layer":[
{"data":{"name":"guides"},"mark":{"type":"rule","color":"#d5d8ef","strokeWidth":1},"encoding":{"x":{"field":"g","type":"quantitative","scale":{"domain":[5.75,181.3],"nice":false,"zero":false},"axis":null}}},
{"data":{"name":"ruler"},"mark":{"type":"rule","color":"#111111","strokeWidth":2},"encoding":{"x":{"field":"k","type":"quantitative","axis":null},"y":{"datum":-0.5,"type":"quantitative","scale":{"domain":[0,16],"nice":false,"zero":false},"axis":null},"y2":{"datum":-7.5}}},
{"data":{"name":"ruler"},"mark":{"type":"text","dx":-34,"fontSize":7,"font":"Liberation Sans","color":"#333333"},"encoding":{"x":{"field":"k","type":"quantitative","axis":null},"y":{"datum":-3.5,"type":"quantitative","axis":null},"text":{"field":"lab"}}},
{"data":{"name":"sbar"},"mark":{"type":"rule","color":"#222222","strokeWidth":1},"encoding":{"x":{"field":"s","type":"quantitative","axis":null},"x2":{"field":"e"},"y":{"datum":7.3,"type":"quantitative","axis":null}}},
{"data":{"name":"sbar"},"mark":{"type":"rule","color":"#222222","strokeWidth":1.2},"encoding":{"x":{"field":"s","type":"quantitative","axis":null},"y":{"datum":4.3,"type":"quantitative","axis":null},"y2":{"datum":10.3}}},
{"data":{"name":"sbar"},"mark":{"type":"rule","color":"#222222","strokeWidth":1.2},"encoding":{"x":{"field":"e","type":"quantitative","axis":null},"y":{"datum":4.3,"type":"quantitative","axis":null},"y2":{"datum":10.3}}},
{"data":{"name":"sbar"},"mark":{"type":"text","align":"right","dx":-2,"fontSize":6.5,"font":"Liberation Sans","color":"#222222"},"encoding":{"x":{"field":"s","type":"quantitative","axis":null},"y":{"datum":7.3,"type":"quantitative","axis":null},"text":{"field":"lab"}}},
{"data":{"name":"sbar"},"mark":{"type":"text","align":"left","dx":11,"fontSize":6.5,"font":"Liberation Sans","color":"#222222"},"encoding":{"x":{"field":"e","type":"quantitative","axis":null},"y":{"datum":7.3,"type":"quantitative","axis":null},"text":{"field":"asm"}}}
]},
{"width":1322,"height":145,"layer":[
{"data":{"name":"guides"},"mark":{"type":"rule","color":"#d5d8ef","strokeWidth":1},"encoding":{"x":{"field":"g","type":"quantitative","scale":{"domain":[5.75,181.3],"nice":false,"zero":false},"axis":null}}},
{"data":{"name":"cov"},"mark":{"type":"bar","orient":"vertical","size":3,"color":"#111111"},"encoding":{"x":{"field":"x","type":"quantitative","axis":null},"y":{"field":"h","type":"quantitative","scale":{"domain":[0,145],"nice":false},"axis":null}}},
{"data":{"name":"spk"},"mark":{"type":"bar","orient":"vertical","size":2.4,"color":"#111111"},"encoding":{"x":{"field":"x","type":"quantitative","axis":null},"y":{"field":"a","type":"quantitative","axis":null}}},
{"data":{"values":[{"t":"111 Individual A"}]},"mark":{"type":"text","fontSize":6.5,"font":"Liberation Sans","color":"#222222"},"encoding":{"x":{"datum":95.65,"type":"quantitative","axis":null},"y":{"datum":133,"type":"quantitative","axis":null},"text":{"field":"t"}}}
]},
{"width":1322,"height":140,"layer":[
{"data":{"name":"guides"},"mark":{"type":"rule","color":"#d5d8ef","strokeWidth":1},"encoding":{"x":{"field":"g","type":"quantitative","scale":{"domain":[5.75,181.3],"nice":false,"zero":false},"axis":null}}},
{"data":{"name":"cov"},"mark":{"type":"bar","orient":"vertical","size":3,"color":"#111111"},"encoding":{"x":{"field":"x","type":"quantitative","axis":null},"y":{"field":"h","type":"quantitative","scale":{"domain":[0,140],"nice":false},"axis":null}}},
{"data":{"name":"spk"},"mark":{"type":"bar","orient":"vertical","size":2.4,"color":"#111111"},"encoding":{"x":{"field":"x","type":"quantitative","axis":null},"y":{"field":"b","type":"quantitative","axis":null}}},
{"data":{"values":[{"t":"112 Individual A"}]},"mark":{"type":"text","fontSize":6.5,"font":"Liberation Sans","color":"#222222"},"encoding":{"x":{"datum":95.65,"type":"quantitative","axis":null},"y":{"datum":133,"type":"quantitative","axis":null},"text":{"field":"t"}}}
]},
{"width":1322,"height":140,"layer":[
{"data":{"name":"guides"},"mark":{"type":"rule","color":"#d5d8ef","strokeWidth":1},"encoding":{"x":{"field":"g","type":"quantitative","scale":{"domain":[5.75,181.3],"nice":false,"zero":false},"axis":null}}},
{"data":{"name":"cov"},"mark":{"type":"bar","orient":"vertical","size":3,"color":"#111111"},"encoding":{"x":{"field":"x","type":"quantitative","axis":null},"y":{"field":"h","type":"quantitative","scale":{"domain":[0,140],"nice":false},"axis":null}}},
{"data":{"name":"spk"},"mark":{"type":"bar","orient":"vertical","size":2.4,"color":"#111111"},"encoding":{"x":{"field":"x","type":"quantitative","axis":null},"y":{"field":"c","type":"quantitative","axis":null}}},
{"data":{"values":[{"t":"213 Individual A"}]},"mark":{"type":"text","fontSize":6.5,"font":"Liberation Sans","color":"#222222"},"encoding":{"x":{"datum":95.65,"type":"quantitative","axis":null},"y":{"datum":133,"type":"quantitative","axis":null},"text":{"field":"t"}}}
]},
{"width":1322,"height":140,"layer":[
{"data":{"name":"guides"},"mark":{"type":"rule","color":"#d5d8ef","strokeWidth":1},"encoding":{"x":{"field":"g","type":"quantitative","scale":{"domain":[5.75,181.3],"nice":false,"zero":false},"axis":null}}},
{"data":{"name":"cov"},"mark":{"type":"bar","orient":"vertical","size":3,"color":"#111111"},"encoding":{"x":{"field":"x","type":"quantitative","axis":null},"y":{"field":"h","type":"quantitative","scale":{"domain":[0,140],"nice":false},"axis":null}}},
{"data":{"name":"spk"},"mark":{"type":"bar","orient":"vertical","size":2.4,"color":"#111111"},"encoding":{"x":{"field":"x","type":"quantitative","axis":null},"y":{"field":"d","type":"quantitative","axis":null}}},
{"data":{"values":[{"t":"214 Individual A"}]},"mark":{"type":"text","fontSize":6.5,"font":"Liberation Sans","color":"#222222"},"encoding":{"x":{"datum":95.65,"type":"quantitative","axis":null},"y":{"datum":133,"type":"quantitative","axis":null},"text":{"field":"t"}}}
]},
{"width":1322,"height":39,"layer":[
{"data":{"name":"guides"},"mark":{"type":"rule","color":"#d5d8ef","strokeWidth":1},"encoding":{"x":{"field":"g","type":"quantitative","scale":{"domain":[5.75,181.3],"nice":false,"zero":false},"axis":null}}},
{"data":{"name":"cnv"},"mark":{"type":"rect","color":"#3a66c6"},"encoding":{"x":{"field":"s","type":"quantitative","axis":null},"x2":{"field":"e"},"y":{"datum":21,"type":"quantitative","scale":{"domain":[0,39],"nice":false,"zero":false},"axis":null},"y2":{"datum":28}}},
{"data":{"values":[{"t":"RefSeq Genes"}]},"mark":{"type":"text","fontSize":6.5,"font":"Liberation Sans","color":"#2f4fb0"},"encoding":{"x":{"datum":95.65,"type":"quantitative","axis":null},"y":{"datum":15,"type":"quantitative","axis":null},"text":{"field":"t"}}},
{"data":{"name":"tx"},"transform":[{"filter":"datum.t == 1"}],"mark":{"type":"rule","color":"#27308a","strokeWidth":1},"encoding":{"x":{"field":"s","type":"quantitative","axis":null},"x2":{"field":"e"},"y":{"datum":9,"type":"quantitative","axis":null}}},
{"data":{"name":"tx"},"transform":[{"filter":"datum.t == 2"}],"mark":{"type":"rule","color":"#27308a","strokeWidth":1},"encoding":{"x":{"field":"s","type":"quantitative","axis":null},"x2":{"field":"e"},"y":{"datum":2,"type":"quantitative","axis":null}}},
{"data":{"name":"ex"},"transform":[{"filter":"datum.k == 1"}],"mark":{"type":"rect","color":"#27308a"},"encoding":{"x":{"field":"s","type":"quantitative","axis":null},"x2":{"field":"e"},"y":{"datum":6,"type":"quantitative","axis":null},"y2":{"datum":12}}},
{"data":{"name":"ex"},"transform":[{"filter":"datum.k == 2"}],"mark":{"type":"rect","color":"#27308a"},"encoding":{"x":{"field":"s","type":"quantitative","axis":null},"x2":{"field":"e"},"y":{"datum":0.3,"type":"quantitative","axis":null},"y2":{"datum":12.5}}},
{"data":{"name":"ex"},"transform":[{"filter":"datum.k == 3"}],"mark":{"type":"rect","color":"#27308a"},"encoding":{"x":{"field":"s","type":"quantitative","axis":null},"x2":{"field":"e"},"y":{"datum":6.5,"type":"quantitative","axis":null},"y2":{"datum":11.5}}},
{"data":{"name":"ex"},"transform":[{"filter":"datum.k == 3"}],"mark":{"type":"rect","color":"#27308a"},"encoding":{"x":{"field":"s","type":"quantitative","axis":null},"x2":{"field":"e"},"y":{"datum":0,"type":"quantitative","axis":null},"y2":{"datum":4.5}}}
]}
]
}
